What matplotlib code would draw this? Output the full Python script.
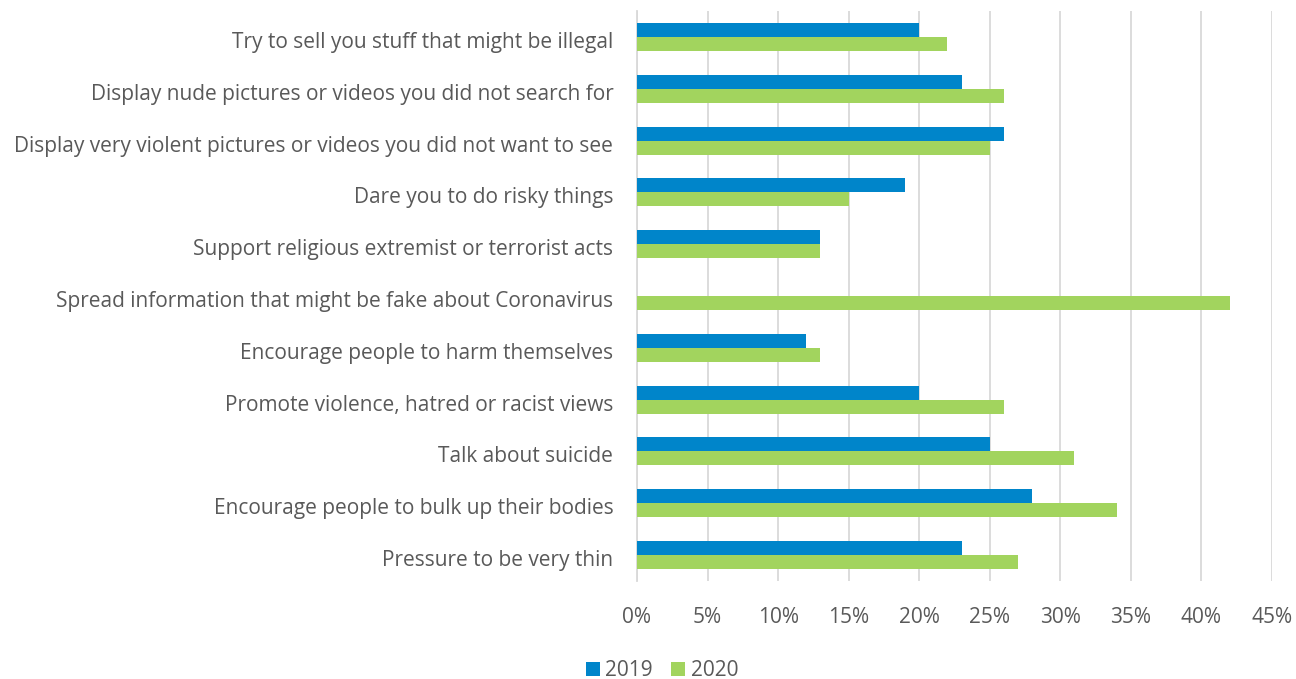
import numpy as np
import matplotlib
matplotlib.use("Agg")
import matplotlib.pyplot as plt
import matplotlib.transforms as mtransforms

# Categories listed top to bottom
categories = [
    "Try to sell you stuff that might be illegal",
    "Display nude pictures or videos you did not search for",
    "Display very violent pictures or videos you did not want to see",
    "Dare you to do risky things",
    "Support religious extremist or terrorist acts",
    "Spread information that might be fake about Coronavirus",
    "Encourage people to harm themselves",
    "Promote violence, hatred or racist views",
    "Talk about suicide",
    "Encourage people to bulk up their bodies",
    "Pressure to be very thin",
]
# share of respondents (%), no 2019 value for the Coronavirus question
values_2019 = [20, 23, 26, 19, 13, np.nan, 12, 20, 25, 28, 23]
values_2020 = [22, 26, 25, 15, 13, 42, 13, 26, 31, 34, 27]
xticks = list(range(0, 50, 5))

blue = "#0085CA"
green = "#A2D45E"
text_color = "#595959"
grid_color = "#D9D9D9"

plt.rcParams["font.family"] = ["Open Sans", "DejaVu Sans"]

fig = plt.figure(figsize=(12.96, 6.79), dpi=100)
ax = fig.add_axes([0.4915, 0.1443, 0.49, 0.8395])

y = np.arange(len(categories))
h = 0.27
ax.barh(y - h / 2, values_2019, height=h, color=blue, label="2019", zorder=3)
ax.barh(y + h / 2, values_2020, height=h, color=green, label="2020", zorder=3)

ax.set_ylim(len(categories) - 0.5, -0.5)
ax.set_xlim(0, 45)
ax.set_yticks(y)
ax.set_yticklabels(categories, fontsize=15, color=text_color)
ax.set_xticks(xticks)
ax.set_xticklabels([f"{t}%" for t in xticks], fontsize=15, color=text_color)
ax.tick_params(axis="y", length=0, pad=17)
ax.tick_params(axis="x", length=0, pad=19)

# nudge category labels a little below the group centre
shift = mtransforms.ScaledTranslation(0, -3 / 100, fig.dpi_scale_trans)
for lbl in ax.get_yticklabels():
    lbl.set_transform(lbl.get_transform() + shift)

ax.grid(axis="x", color=grid_color, linewidth=1.3, zorder=0)
for side in ["top", "right", "bottom"]:
    ax.spines[side].set_visible(False)
ax.spines["left"].set_color(grid_color)
ax.spines["left"].set_linewidth(1.3)

fig.legend(loc="center", bbox_to_anchor=(662 / 1296, 1 - 671 / 679), ncol=2,
           frameon=False, fontsize=15, labelcolor=text_color,
           handlelength=0.67, handleheight=0.67, handletextpad=0.25,
           columnspacing=0.9, borderpad=0, borderaxespad=0)

fig.savefig("out.png", dpi=100)
